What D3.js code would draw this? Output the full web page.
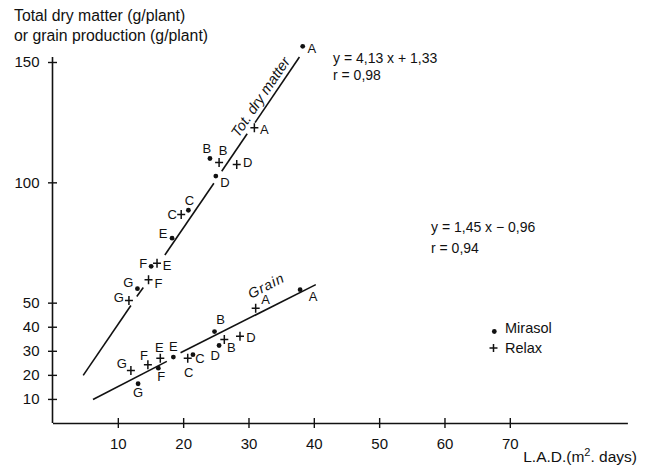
<!DOCTYPE html>
<html>
<head>
<meta charset="utf-8">
<script src="https://cdn.jsdelivr.net/npm/d3@7"></script>
<style>
  html, body { margin: 0; padding: 0; background: #fff; }
  svg { display: block; }
  text { font-family: "Liberation Sans", Arial, sans-serif; fill: #111; }
</style>
</head>
<body>
<svg id="chart" width="650" height="467"></svg>
<script>
// ---------- data ----------
const letters = ["A", "B", "C", "D", "E", "F", "G"];

// Total dry matter (g/plant) vs L.A.D.
const tdmMirasolX = [38.3, 24.1, 20.8, 25.0, 18.3, 15.1, 13.0];
const tdmMirasolY = [156.5, 109.9, 88.4, 102.6, 76.8, 65.1, 55.8];
const tdmRelaxX   = [30.9, 25.5, 19.7, 28.2, 16.0, 14.7, 11.7];
const tdmRelaxY   = [122.7, 108.2, 86.6, 107.4, 66.4, 59.5, 50.9];

// Grain production (g/plant) vs L.A.D.
const grainMirasolX = [37.9, 24.8, 21.5, 25.5, 18.5, 16.2, 13.1];
const grainMirasolY = [55.4, 38.0, 28.4, 32.2, 27.4, 22.8, 16.3];
const grainRelaxX   = [31.1, 26.3, 20.7, 28.7, 16.5, 14.6, 12.0];
const grainRelaxY   = [47.7, 34.7, 26.9, 36.0, 26.9, 24.2, 21.8];

// Regression line pieces (drawn broken around labels), [x0, y0, x1, y1]
const tdmLineSegments = [
  [4.7, 19.8, 12.0, 48.8],
  [12.9, 52.6, 13.9, 56.3],
  [17.2, 69.8, 24.7, 99.6],
  [25.9, 104.6, 29.8, 120.2],
  [31.0, 124.8, 37.8, 152.1]
];
const grainLineSegments = [
  [6.2, 9.8, 17.5, 25.6],
  [19.6, 29.2, 40.3, 57.5]
];

const xTicks = [10, 20, 30, 40, 50, 60, 70];
const yTicks = [10, 20, 30, 40, 50, 100, 150];

const titleLines = ["Total dry matter (g/plant)", "or grain production (g/plant)"];
const xTitle = "L.A.D.";
const tdmEquation = ["y = 4,13 x + 1,33", "r = 0,98"];
const grainEquation = ["y = 1,45 x \u2212 0,96", "r = 0,94"];
const seriesNames = ["Mirasol", "Relax"];
const tdmCurveLabel = "Tot. dry matter";
const grainCurveLabel = "Grain";

// ---------- layout (label offsets in px, same order as letters) ----------
const offTdmMirasol   = [[9, 2], [-3, -10], [1, -10], [9, 6], [-9, -5], [-8, -3], [-9, -6]];
const offTdmRelax     = [[10, 2], [4, -12], [-9, 0], [11, -2], [10, 2], [10, 4], [-10, -3]];
const offGrainMirasol = [[13, 7], [6, -12], [7, 4], [-4, 10], [0, -11], [3, 8], [0, 9]];
const offGrainRelax   = [[10, -9], [7, 8], [1, 14], [11, 1], [-1, -11], [-4, -9], [-9, -7]];

const svg = d3.select("#chart");
const x = d3.scaleLinear().domain([0, 88]).range([52.5, 627.4]);
const y = d3.scaleLinear().domain([0, 150]).range([423, 62]);

// ---------- axes ----------
const xAxis = svg.append("g")
  .attr("transform", `translate(0,${y(0)})`)
  .call(d3.axisBottom(x).tickValues(xTicks).tickSizeInner(5).tickSizeOuter(0).tickFormat(d3.format("d")));
xAxis.select(".domain").attr("stroke", "#111").attr("stroke-width", 1.6);
xAxis.selectAll(".tick line").attr("y1", -5).attr("y2", 5).attr("stroke", "#111").attr("stroke-width", 1.4);
xAxis.selectAll(".tick text").attr("y", 15).attr("font-size", 15).attr("fill", "#111")
  .attr("font-family", "Liberation Sans, Arial, sans-serif");

const yAxis = svg.append("g")
  .attr("transform", `translate(${x(0)},0)`)
  .call(d3.axisLeft(y).tickValues(yTicks).tickSizeInner(4.5).tickSizeOuter(0).tickFormat(d3.format("d")));
yAxis.select(".domain").attr("stroke", "#111").attr("stroke-width", 1.6)
  .attr("d", `M0,${y(0)}V${y(150) - 5}`);
yAxis.selectAll(".tick line").attr("x1", -4.5).attr("x2", 4.5).attr("stroke", "#111").attr("stroke-width", 1.4);
yAxis.selectAll(".tick text").attr("x", -13).attr("font-size", 15).attr("fill", "#111")
  .attr("font-family", "Liberation Sans, Arial, sans-serif");

// ---------- titles ----------
svg.selectAll("text.ytitle").data(titleLines).enter().append("text")
  .attr("class", "ytitle")
  .attr("x", 14).attr("y", (d, i) => 21 + i * 19.5)
  .attr("font-size", 15.8).text(d => d);

const xt = svg.append("text").attr("x", 637).attr("y", 461.5)
  .attr("text-anchor", "end").attr("font-size", 15.5);
xt.append("tspan").text(xTitle + "(m");
xt.append("tspan").attr("dy", -6).attr("font-size", 11).text("2");
xt.append("tspan").attr("dy", 6).text(". days)");

// ---------- regression lines ----------
function drawSegments(segs) {
  svg.append("g").selectAll("line").data(segs).enter().append("line")
    .attr("x1", d => x(d[0])).attr("y1", d => y(d[1]))
    .attr("x2", d => x(d[2])).attr("y2", d => y(d[3]))
    .attr("stroke", "#111").attr("stroke-width", 1.6);
}
drawSegments(tdmLineSegments);
drawSegments(grainLineSegments);

// ---------- markers ----------
function drawSeries(xs, ys, offs, kind) {
  const g = svg.append("g");
  const pts = xs.map((v, i) => ({ x: v, y: ys[i], label: letters[i], off: offs[i] }));
  if (kind === "dot") {
    g.selectAll("circle").data(pts).enter().append("circle")
      .attr("cx", d => x(d.x)).attr("cy", d => y(d.y)).attr("r", 2.4).attr("fill", "#111");
  } else {
    g.selectAll("path").data(pts).enter().append("path")
      .attr("d", d => `M${x(d.x) - 4},${y(d.y)}H${x(d.x) + 4}M${x(d.x)},${y(d.y) - 4.5}V${y(d.y) + 4.5}`)
      .attr("stroke", "#111").attr("stroke-width", 1.5).attr("fill", "none");
  }
  g.selectAll("text").data(pts).enter().append("text")
    .attr("x", d => x(d.x) + d.off[0]).attr("y", d => y(d.y) + d.off[1])
    .attr("dy", "0.36em").attr("text-anchor", "middle").attr("font-size", 13)
    .text(d => d.label);
}
drawSeries(tdmMirasolX, tdmMirasolY, offTdmMirasol, "dot");
drawSeries(tdmRelaxX, tdmRelaxY, offTdmRelax, "plus");
drawSeries(grainMirasolX, grainMirasolY, offGrainMirasol, "dot");
drawSeries(grainRelaxX, grainRelaxY, offGrainRelax, "plus");

// ---------- curve labels (rotated along lines) ----------
function angleOf(seg) {
  return Math.atan2(y(seg[3]) - y(seg[1]), x(seg[2]) - x(seg[0])) * 180 / Math.PI;
}
const tdmAngle = angleOf([tdmLineSegments[0][0], tdmLineSegments[0][1], tdmLineSegments[4][2], tdmLineSegments[4][3]]);
const grainAngle = angleOf([grainLineSegments[0][0], grainLineSegments[0][1], grainLineSegments[1][2], grainLineSegments[1][3]]);

svg.append("text")
  .attr("transform", `translate(${x(31.9)},${y(135.3)}) rotate(${tdmAngle})`)
  .attr("text-anchor", "middle").attr("dy", "0.3em")
  .attr("font-size", 14.5).attr("font-style", "italic").text(tdmCurveLabel);

svg.append("text")
  .attr("transform", `translate(${x(32.7)},${y(57.1)}) rotate(${grainAngle})`)
  .attr("text-anchor", "middle").attr("dy", "0.35em")
  .attr("font-size", 14).attr("font-style", "italic").attr("letter-spacing", 1).text(grainCurveLabel);

// ---------- equations ----------
svg.selectAll("text.eq1").data(tdmEquation).enter().append("text")
  .attr("class", "eq1").attr("x", 333).attr("y", (d, i) => 63.3 + i * 16.7)
  .attr("font-size", 14).text(d => d);
svg.selectAll("text.eq2").data(grainEquation).enter().append("text")
  .attr("class", "eq2").attr("x", 431).attr("y", (d, i) => 231.7 + i * 21.6)
  .attr("font-size", 14).text(d => d);

// ---------- legend ----------
const lg = svg.append("g");
lg.append("circle").attr("cx", 494.3).attr("cy", 331.5).attr("r", 2.4).attr("fill", "#111");
lg.append("path").attr("d", "M489.5,348H497.5M493.5,344V352").attr("stroke", "#111").attr("stroke-width", 1.5);
lg.selectAll("text").data(seriesNames).enter().append("text")
  .attr("x", 505).attr("y", (d, i) => 333.3 + i * 20).attr("font-size", 14.5).text(d => d);
</script>
</body>
</html>
